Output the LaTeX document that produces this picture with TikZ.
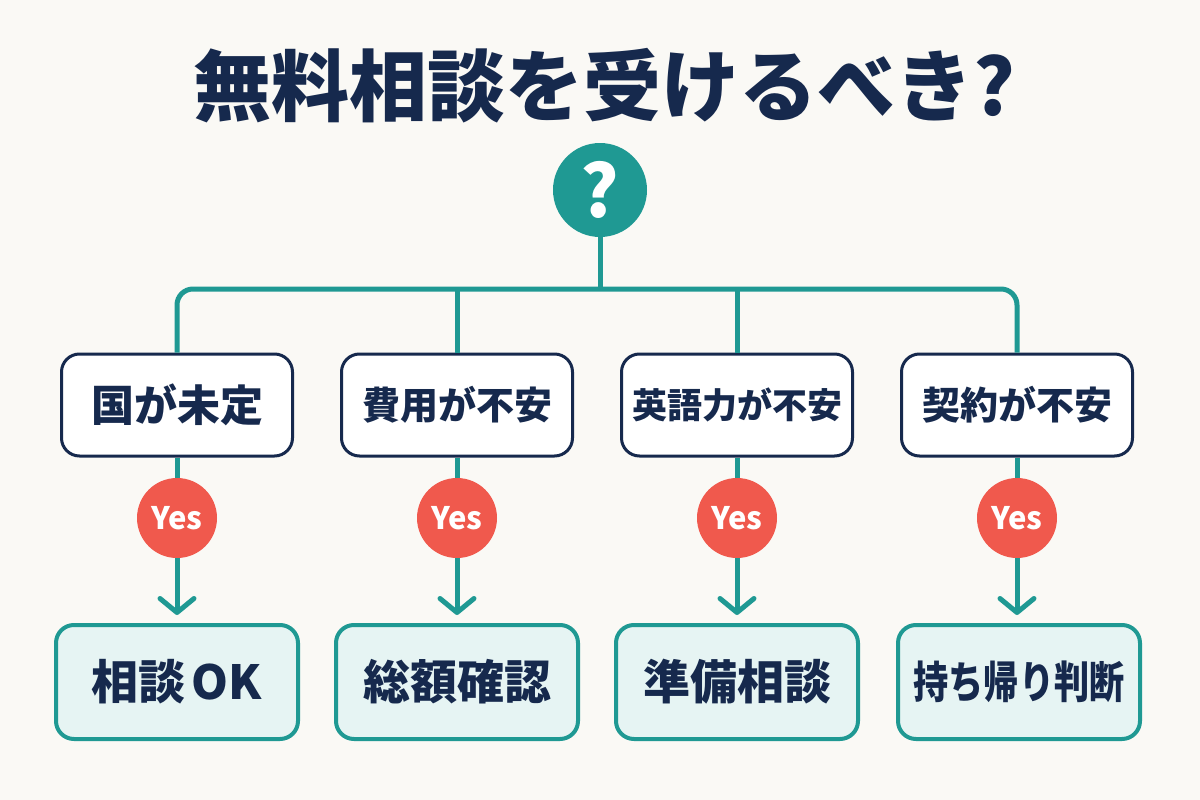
\documentclass[tikz,border=0pt]{standalone}
\usepackage{fontspec}
\setmainfont{Noto Sans CJK JP}
\usetikzlibrary{arrows.meta}
\definecolor{bg}{HTML}{FAF9F5}
\definecolor{tealc}{HTML}{1F9993}
\definecolor{navy}{HTML}{16294D}
\definecolor{coral}{HTML}{F0594D}
\definecolor{lightteal}{HTML}{E6F4F3}
\begin{document}
\begin{tikzpicture}[x=1pt,y=-1pt,
  conn/.style={draw=tealc, line width=5pt},
  arr/.style={conn, -{Straight Barb[length=14pt,width=34pt,round]}, shorten >=8pt},
  qbox/.style={draw=navy, line width=3pt, fill=white, rounded corners=18pt,
    minimum width=231pt, minimum height=102pt, text=navy, inner sep=0pt,
    font=\bfseries\fontsize{38}{44}\selectfont},
  abox/.style={draw=tealc, line width=4pt, fill=lightteal, rounded corners=18pt,
    minimum width=242pt, minimum height=114pt, text=navy, inner sep=0pt,
    font=\bfseries\fontsize{47}{54}\selectfont},
  yesc/.style={circle, fill=coral, minimum size=80pt, inner sep=0pt, text=white,
    font=\bfseries\fontsize{31}{36}\selectfont},
  qcirc/.style={circle, fill=tealc, minimum size=94pt, inner sep=0pt, text=white,
    font=\bfseries\fontsize{72}{80}\selectfont},
  titlec/.style={text=navy, font=\bfseries\fontsize{78}{90}\selectfont, inner sep=0pt}
  ]
\fill[bg] (0,0) rectangle (1200,800);
\useasboundingbox (0,0) rectangle (1200,800);

\node[titlec] (title) at (604,86) {無料相談を受けるべき?};
\node[qcirc] (q) at (600,190) {?};

\node[qbox, font=\bfseries\fontsize{43}{48}\selectfont] (t1) at (177,405) {国が未定};
\node[qbox] (t2) at (457,405) {費用が不安};
\node[qbox, font=\bfseries\fontsize{35}{40}\selectfont] (t3) at (737,405) {英語力が不安};
\node[qbox] (t4) at (1017,405) {契約が不安};

\node[yesc] (y1) at (177,518) {Yes};
\node[yesc] (y2) at (457,518) {Yes};
\node[yesc] (y3) at (737,518) {Yes};
\node[yesc] (y4) at (1017,518) {Yes};

\node[abox] (b1) at (177,682) {相談\hspace{6pt}OK};
\node[abox] (b2) at (457,682) {総額確認};
\node[abox] (b3) at (737,682) {準備相談};
\node[abox, font=\bfseries\fontsize{44}{50}\selectfont] (b4) at (1019,682) {\scalebox{0.8}[1]{持ち帰り判断}};

\coordinate (busL) at (177,289);
\coordinate (busR) at (1017,289);

\draw[conn] (q.south) -- (q.south |- busL);
\draw[conn, rounded corners=16pt] (t1.north) -- (busL) -- (busR) -- (t4.north);
\draw[conn] (t2.north |- busL) -- (t2.north);
\draw[conn] (t3.north |- busL) -- (t3.north);

\foreach \i in {1,2,3,4}{
  \draw[conn] (t\i.south) -- (y\i.north);
  \draw[arr] (y\i.south) -- (y\i.south |- b\i.north);
}
\end{tikzpicture}
\end{document}
